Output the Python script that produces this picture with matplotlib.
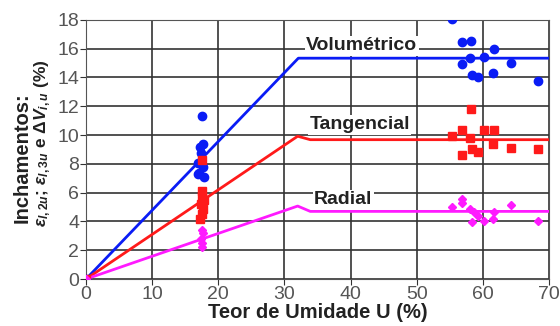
import numpy as np
import matplotlib
import matplotlib.pyplot as plt

matplotlib.use('agg')
plt.rcParams['font.family'] = ['Liberation Sans', 'DejaVu Sans']
plt.rcParams['mathtext.fontset'] = 'custom'
plt.rcParams['mathtext.rm'] = 'Liberation Sans:bold'
plt.rcParams['mathtext.it'] = 'Liberation Sans:bold:italic'
plt.rcParams['mathtext.bf'] = 'Liberation Sans:bold'

# model curves
vol_x = [0, 32.1, 70]
vol_y = [0, 15.34, 15.34]
tan_x = [0, 32.0, 33.9, 70]
tan_y = [0, 9.92, 9.68, 9.68]
rad_x = [0, 32.0, 33.9, 70]
rad_y = [0, 5.07, 4.70, 4.70]

# measured points
vol_px = [0, 17.6, 17.7, 17.3, 17.4, 17.0, 17.7, 17.1, 17.8, 16.9,
          55.3, 56.8, 58.2, 61.7, 56.8, 58.1, 60.1, 64.3, 58.4, 59.2, 61.5, 68.3]
vol_py = [0, 11.35, 9.36, 9.2, 8.73, 8.04, 7.8, 7.34, 7.11, 7.3,
          18.07, 16.45, 16.52, 16.0, 14.94, 15.34, 15.45, 15.03, 14.18, 14.06, 14.34, 13.76]
tan_px = [0, 17.6, 17.3, 17.5, 17.7, 17.4, 17.8, 17.5, 17.6,
          58.2, 56.8, 60.1, 61.7, 55.3, 58.0, 61.5, 58.4, 59.2, 64.3, 68.3, 56.8]
tan_py = [0, 8.3, 4.2, 4.5, 4.9, 5.2, 5.5, 5.8, 6.1,
          11.79, 10.35, 10.35, 10.35, 9.94, 9.82, 9.38, 9.01, 8.85, 9.13, 9.01, 8.6]
rad_px = [0, 17.5, 17.6, 17.4, 17.7, 17.5,
          56.8, 56.8, 55.3, 58.1, 58.6, 59.3, 61.7, 64.3, 58.4, 60.1, 61.5, 68.3]
rad_py = [0, 2.2, 2.5, 2.8, 3.2, 3.4,
          5.54, 5.26, 4.98, 4.84, 4.66, 4.38, 4.68, 5.16, 3.98, 4.05, 4.15, 4.05]

BLUE = '#0a1cf5'
RED = '#ff1a1a'
MAG = '#ff1aff'

fig = plt.figure(figsize=(5.6, 3.26), dpi=100)
ax = fig.add_axes([0.1536, 0.144, 0.8268, 0.795])

ax.plot(vol_x, vol_y, color=BLUE, lw=2, zorder=3)
ax.plot(tan_x, tan_y, color=RED, lw=2, zorder=3)
ax.plot(rad_x, rad_y, color=MAG, lw=2, zorder=3)
ax.plot(vol_px, vol_py, 'o', color=BLUE, ms=6, zorder=4)
ax.plot(tan_px, tan_py, 's', color=RED, ms=5.5, zorder=4)
ax.plot(rad_px, rad_py, 'D', color=MAG, ms=4.5, zorder=4)

box = dict(facecolor='white', edgecolor='none', pad=1)
ax.text(41.7, 16.2, 'Volumétrico', ha='center', va='center', fontsize=14,
        fontweight='bold', color='#222222', bbox=box, zorder=5)
ax.text(41.4, 10.7, 'Tangencial', ha='center', va='center', fontsize=14,
        fontweight='bold', color='#222222', bbox=box, zorder=5)
ax.text(38.9, 5.5, 'Radial', ha='center', va='center', fontsize=14,
        fontweight='bold', color='#222222', bbox=box, zorder=5)

ax.set_xlim(0, 70)
ax.set_ylim(0, 18)
ax.set_xticks(np.arange(0, 71, 10))
ax.set_yticks(np.arange(0, 19, 2))
ax.grid(True, color='#333333', lw=1.2)
ax.set_axisbelow(True)
ax.tick_params(labelsize=14, labelcolor='#555555', length=4, color='#333333', pad=1)
for s in ax.spines.values():
    s.set_color('#555555')
ax.set_xlabel('Teor de Umidade U (%)', fontsize=14.5, fontweight='bold', labelpad=0,
              color='#222222')
fig.text(0.039, 0.515, 'Inchamentos:', rotation=90, ha='center', va='center',
         fontsize=14.5, fontweight='bold', color='#222222')
fig.text(0.077, 0.56,
         r'$\varepsilon_{l,2u}$; $\varepsilon_{l,3u}$ e $\Delta V_{i,u}$ (%)',
         rotation=90, ha='center', va='center', fontsize=12.5, fontweight='bold',
         color='#222222')

fig.savefig('out.png', dpi=100)
